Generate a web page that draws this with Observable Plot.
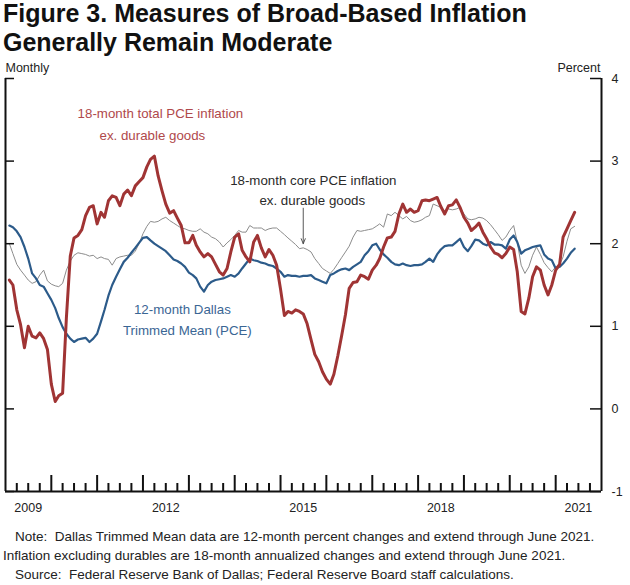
<!DOCTYPE html>
<html>
<head>
<meta charset="utf-8">
<script src="https://cdn.jsdelivr.net/npm/d3@7"></script>
<script src="https://cdn.jsdelivr.net/npm/@observablehq/plot@0.6"></script>
<style>
  html, body { margin: 0; padding: 0; background: #fff; }
  #wrap { position: relative; width: 630px; height: 585px; overflow: hidden; font-family: "Liberation Sans", Arial, sans-serif; color: #111; }
  #title { position: absolute; left: 3px; top: -1px; font-weight: bold; font-size: 25px; line-height: 28.5px; white-space: nowrap; }
  #chart { position: absolute; left: 0; top: 60px; }
  .note { position: absolute; font-size: 13.5px; line-height: 19px; white-space: nowrap; color: #222; }
</style>
</head>
<body>
<div id="wrap">
  <div id="title">Figure 3. Measures of Broad-Based Inflation<br>Generally Remain Moderate</div>
  <div id="chart"></div>
  <div class="note" style="left:15px; top:527px;">Note:&nbsp; Dallas Trimmed Mean data are 12-month percent changes and extend through June 2021.</div>
  <div class="note" style="left:3px; top:546px;">Inflation excluding durables are 18-month annualized changes and extend through June 2021.</div>
  <div class="note" style="left:15px; top:565px;">Source:&nbsp; Federal Reserve Bank of Dallas; Federal Reserve Board staff calculations.</div>
</div>
<script>
// ---- Data (monthly, Feb 2009 through Jun 2021) ----
const startYear = 2009;
const startMonth = 1; // February (0-based)

const totalExDurables = [
  1.56,1.50,1.20,1.02,0.74,1.00,0.88,0.86,0.92,0.85,0.72,0.30,
  0.09,0.16,0.19,1.10,1.85,2.07,2.10,2.17,2.34,2.44,2.46,2.24,
  2.38,2.32,2.52,2.58,2.56,2.46,2.60,2.65,2.58,2.70,2.75,2.80,
  2.93,3.02,3.06,2.82,2.64,2.48,2.37,2.40,2.31,2.22,2.01,2.01,
  2.10,1.98,1.90,1.84,1.88,1.84,1.75,1.66,1.62,1.70,1.90,2.08,
  2.12,1.92,1.84,1.78,2.02,2.10,1.95,1.84,1.93,1.86,1.74,1.45,
  1.13,1.18,1.16,1.20,1.18,1.15,1.03,0.84,0.66,0.57,0.45,0.36,
  0.30,0.42,0.64,0.88,1.14,1.46,1.53,1.54,1.62,1.60,1.57,1.68,
  1.74,1.82,1.96,2.07,2.08,2.15,2.36,2.48,2.38,2.42,2.38,2.40,
  2.52,2.53,2.52,2.54,2.56,2.45,2.36,2.46,2.47,2.53,2.44,2.32,
  2.25,2.16,2.20,2.25,2.14,2.06,1.96,1.89,1.87,1.83,1.88,1.96,
  1.93,1.66,1.18,1.15,1.34,1.60,1.72,1.68,1.50,1.38,1.50,1.68,
  1.75,2.08,2.18,2.28,2.38
];

const coreExDurables = [
  2.00,1.88,1.75,1.68,1.62,1.56,1.52,1.54,1.62,1.68,1.55,1.51,
  1.49,1.48,1.52,1.68,1.79,1.86,1.89,1.88,1.87,1.85,1.86,1.82,
  1.84,1.82,1.81,1.74,1.82,1.84,1.85,1.86,1.86,1.91,2.00,2.12,
  2.21,2.27,2.26,2.27,2.30,2.32,2.28,2.25,2.22,2.19,2.18,2.16,
  2.15,2.15,2.18,2.14,2.12,2.08,2.06,2.02,1.96,2.01,2.05,2.10,
  2.16,2.14,2.14,2.22,2.19,2.19,2.19,2.16,2.18,2.19,2.19,2.15,
  2.11,2.07,2.03,1.99,1.94,1.95,1.93,1.90,1.82,1.76,1.70,1.67,
  1.64,1.69,1.76,1.83,1.90,1.97,2.08,2.16,2.15,2.16,2.17,2.18,
  2.21,2.24,2.20,2.36,2.34,2.38,2.34,2.30,2.33,2.28,2.26,2.27,
  2.29,2.32,2.34,2.48,2.46,2.44,2.40,2.42,2.41,2.42,2.44,2.36,
  2.30,2.29,2.30,2.32,2.31,2.28,2.23,2.17,2.11,2.04,2.08,2.16,
  2.22,2.02,1.74,1.64,1.72,1.86,1.96,1.87,1.77,1.71,1.66,1.72,
  1.74,1.84,2.03,2.18,2.21
];

const dallasTrimmedMean = [
  2.22,2.20,2.15,2.08,1.96,1.82,1.64,1.58,1.50,1.48,1.40,1.32,
  1.22,1.10,0.99,0.91,0.85,0.81,0.84,0.85,0.86,0.81,0.85,0.91,
  1.06,1.20,1.37,1.50,1.60,1.69,1.78,1.83,1.89,1.95,2.01,2.07,
  2.08,2.04,2.00,1.97,1.94,1.91,1.86,1.81,1.79,1.76,1.72,1.65,
  1.62,1.58,1.48,1.42,1.50,1.54,1.56,1.57,1.58,1.60,1.62,1.60,
  1.64,1.70,1.76,1.82,1.80,1.79,1.77,1.76,1.74,1.73,1.70,1.66,
  1.60,1.62,1.61,1.61,1.60,1.61,1.61,1.62,1.58,1.56,1.54,1.52,
  1.62,1.64,1.67,1.69,1.70,1.68,1.72,1.75,1.78,1.86,1.91,1.98,
  2.00,1.93,1.87,1.83,1.78,1.75,1.74,1.76,1.74,1.73,1.74,1.74,
  1.75,1.78,1.82,1.78,1.87,1.93,1.97,1.98,1.98,2.02,2.06,1.96,
  1.91,1.97,2.05,2.04,2.00,1.98,2.02,1.99,1.99,1.98,1.94,2.05,
  2.10,2.02,1.88,1.92,1.94,1.96,1.97,1.98,1.87,1.82,1.80,1.70,
  1.72,1.76,1.82,1.89,1.94
];

const yTicks = [-1, 0, 1, 2, 3, 4];
const yearLabels = [2009, 2012, 2015, 2018, 2021];
const firstYear = 2009, lastYear = 2022;

// ---- Build tables ----
const monthDate = i => new Date(Date.UTC(startYear, startMonth + i, 1));
const toRows = (vals, series) => vals.map((v, i) => ({date: monthDate(i), value: v, series}));
const totalRows = toRows(totalExDurables, "total");
const coreRows = toRows(coreExDurables, "core");
const dallasRows = toRows(dallasTrimmedMean, "dallas");

const x0 = new Date(Date.UTC(firstYear, 0, 1));
const x1 = new Date(Date.UTC(lastYear, 0, 1));
const majorTicks = d3.utcYears(new Date(Date.UTC(firstYear + 1, 0, 1)), x1);
const minorTicks = d3.utcMonths(x0, x1, 3).filter(d => d.getUTCMonth() !== 0);

const RED = "#a03434", BLUE = "#2c5b8a", GRAY = "#8c8c8c";
const RED_TXT = "#b0494b", BLUE_TXT = "#3a6694", DARK_TXT = "#2a2a2a";

const frameH = 460 - 18 - 29;

const chart = Plot.plot({
  width: 630,
  height: 460,
  marginTop: 18,
  marginBottom: 29,
  marginLeft: 5,
  marginRight: 29,
  style: {fontFamily: "'Liberation Sans', Arial, sans-serif", fontSize: "12.5px", color: "#222", background: "white", overflow: "visible"},
  x: {type: "utc", domain: [x0, x1], axis: null},
  y: {domain: [-1, 4], axis: null},
  marks: [
    // series
    Plot.lineY(coreRows, {x: "date", y: "value", stroke: GRAY, strokeWidth: 1}),
    Plot.lineY(dallasRows, {x: "date", y: "value", stroke: BLUE, strokeWidth: 2.2}),
    Plot.lineY(totalRows, {x: "date", y: "value", stroke: RED, strokeWidth: 3}),
    // frame lines
    Plot.ruleX([x0, x1], {stroke: "#111", strokeWidth: 2}),
    Plot.ruleY([-1], {stroke: "#111", strokeWidth: 2}),
    // y ticks (inward), left and right
    Plot.tickY(yTicks, {y: d => d, stroke: "#111", strokeWidth: 1.5, insetRight: 596 - 9}),
    Plot.tickY(yTicks, {y: d => d, stroke: "#111", strokeWidth: 1.5, insetLeft: 596 - 11}),
    // x ticks (inward)
    Plot.tickX(majorTicks, {x: d => d, stroke: "#111", strokeWidth: 2, insetTop: frameH - 16}),
    Plot.tickX(minorTicks, {x: d => d, stroke: "#111", strokeWidth: 2, insetTop: frameH - 8}),
    // y labels on right
    Plot.text(yTicks, {x: x1, y: d => d, text: d => String(d), dx: 10, textAnchor: "start", fill: "#222"}),
    // year labels
    Plot.text(yearLabels, {x: d => new Date(Date.UTC(d, 6, 1)), y: -1, dy: 16, text: d => String(d), fill: "#222"}),
    // unit labels
    Plot.text(["Monthly"], {frameAnchor: "top-left", dy: -11, lineAnchor: "middle", textAnchor: "start", fill: "#222"}),
    Plot.text(["Percent"], {frameAnchor: "top-right", dy: -11, dx: -1, lineAnchor: "middle", textAnchor: "end", fill: "#222"}),
    // annotations
    Plot.text([
      {t: "18-month total PCE inflation", d: "2012-05-19", v: 3.576},
      {t: "ex. durable goods", d: "2012-03-16", v: 3.31}
    ], {x: d => new Date(d.d), y: "v", text: "t", fill: RED_TXT, fontSize: 13.3}),
    Plot.text([
      {t: "18-month core PCE inflation", d: "2015-09-19", v: 2.765},
      {t: "ex. durable goods", d: "2015-09-11", v: 2.515}
    ], {x: d => new Date(d.d), y: "v", text: "t", fill: DARK_TXT, fontSize: 13.3}),
    Plot.text([
      {t: "12-month Dallas", d: "2012-11-10", v: 1.203},
      {t: "Trimmed Mean (PCE)", d: "2012-12-20", v: 0.949}
    ], {x: d => new Date(d.d), y: "v", text: "t", fill: BLUE_TXT, fontSize: 13.3}),
    Plot.arrow([{x: new Date("2015-07-01"), y1: 2.43, y2: 2.0}], {
      x1: "x", x2: "x", y1: "y1", y2: "y2", stroke: "#444", strokeWidth: 0.9, headLength: 9, headAngle: 45
    })
  ]
});
document.getElementById("chart").appendChild(chart);
</script>
</body>
</html>
